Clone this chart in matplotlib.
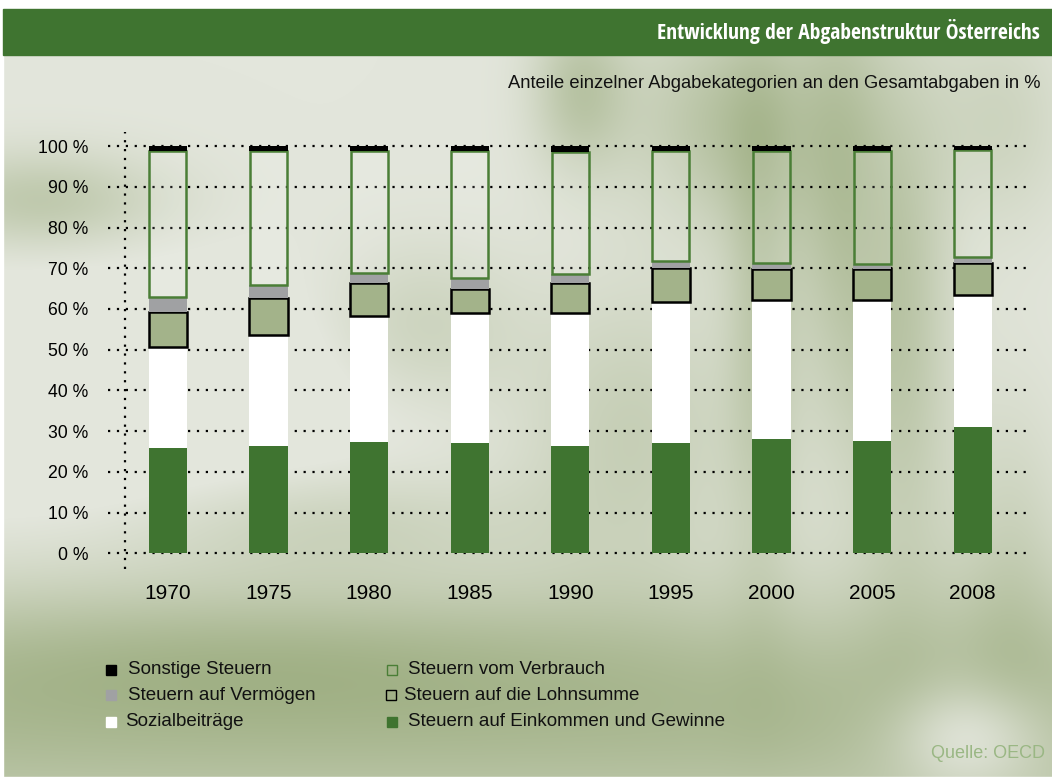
import numpy as np
import matplotlib
matplotlib.use("Agg")
import matplotlib.pyplot as plt
from matplotlib.patches import Rectangle
from matplotlib import font_manager

# data (shares in % of total tax revenue)
years = ["1970", "1975", "1980", "1985", "1990", "1995", "2000", "2005", "2008"]
einkommen = [25.9, 26.4, 27.3, 27.0, 26.3, 27.0, 28.0, 27.5, 31.0]
sozial = [24.7, 27.2, 31.0, 32.0, 32.7, 34.6, 34.2, 34.8, 32.4]
lohnsumme = [8.6, 9.0, 8.0, 6.0, 7.3, 8.5, 7.5, 7.4, 7.8]
vermoegen = [3.7, 3.4, 2.6, 2.5, 2.2, 1.6, 1.5, 1.3, 1.5]
verbrauch = [35.9, 32.8, 29.9, 31.3, 30.0, 27.1, 27.6, 27.8, 26.3]
sonstige = [1.2, 1.2, 1.2, 1.2, 1.5, 1.2, 1.2, 1.2, 1.0]

yticks = list(range(0, 101, 10))
ytick_labels = [f"{t} %" for t in yticks]

title = "Entwicklung der Abgabenstruktur Österreichs"
subtitle = "Anteile einzelner Abgabekategorien an den Gesamtabgaben in %"
source = "Quelle: OECD"

GREEN = "#3f7430"
SAGE = "#a3b38a"
GREY = "#a0a1a3"

W, H = 1052, 781
fig = plt.figure(figsize=(W / 100, H / 100), dpi=100)

# blurred greenish background
bg = fig.add_axes([0, 0, 1, 1])
yy, xx = np.mgrid[0:H, 0:W].astype(float)
light = np.array([227, 230, 220]) / 255
dark = np.array([155, 172, 126]) / 255
t = np.zeros((H, W))
blobs = [
    # cx, cy, sx, sy, strength
    (500, 720, 2000, 90, 0.75),
    (250, 650, 300, 50, 0.3),
    (40, 200, 90, 35, 0.5),
    (580, 90, 35, 60, 0.55),
    (730, 120, 70, 80, 0.6),
    (840, 200, 35, 170, 0.55),
    (905, 330, 35, 200, 0.5),
    (760, 320, 25, 180, 0.45),
    (420, 330, 70, 60, 0.35),
    (630, 430, 80, 100, 0.4),
    (330, 520, 140, 40, 0.3),
    (1010, 560, 40, 120, 0.3),
    (1000, 120, 50, 80, 0.3),
]
for cx, cy, sx, sy, s in blobs:
    t += s * np.exp(-((xx - cx) ** 2 / (2 * sx ** 2) + (yy - cy) ** 2 / (2 * sy ** 2)))
t -= 0.7 * np.exp(-((xx - 970) ** 2 / (2 * 60 ** 2) + (yy - 735) ** 2 / (2 * 40 ** 2)))
t -= 0.3 * np.exp(-((xx - 120) ** 2 / (2 * 200 ** 2) + (yy - 400) ** 2 / (2 * 80 ** 2)))
t = np.clip(t, 0, 1)
img = light[None, None, :] * (1 - t[..., None]) + dark[None, None, :] * t[..., None]
bg.imshow(img, extent=[0, W, H, 0], aspect="auto", interpolation="bilinear")
bg.add_patch(Rectangle((0, 0), W, 9, color="white"))
bg.add_patch(Rectangle((0, 0), 3, H, color="white"))
bg.add_patch(Rectangle((0, H - 4), W, 4, color="white"))
bg.add_patch(Rectangle((3, 9), W - 3, 46, color=GREEN))
bg.set_xlim(0, W)
bg.set_ylim(H, 0)
bg.axis("off")

plt.rcParams["font.family"] = ["Liberation Sans", "DejaVu Sans"]

# condensed bold face for the header, if one is installed
title_font = None
for key in ["NotoSans-ExtraCondensedBold.", "NotoSans-CondensedBold.", "LiberationSansNarrow-Bold.",
            "OpenSans-CondBold.", "DejaVuSansCondensed-Bold.", "Roboto-CondensedBold."]:
    hits = [f.fname for f in font_manager.fontManager.ttflist
            if key in f.fname and "Mono" not in f.fname and "Serif" not in f.fname]
    if hits:
        title_font = hits[0]
        break

if title_font:
    tprops = font_manager.FontProperties(fname=title_font, size=17)
    ttl = fig.text(1040 / W, 1 - 32 / H, title, ha="right", va="center", color="white", fontproperties=tprops)
    fig.canvas.draw()
    tw = ttl.get_window_extent().width
    tprops.set_size(min(20, 17 * 383 / tw))
    ttl.set_fontproperties(tprops)
else:
    fig.text(1040 / W, 1 - 32 / H, title, ha="right", va="center", color="white",
             fontsize=14.5, fontweight="bold", family=["Liberation Sans", "DejaVu Sans"])

fig.text(1040 / W, 1 - 84 / H, subtitle, ha="right", va="center", fontsize=13.2, color="#111111")
fig.text(1045 / W, 1 - 753 / H, source, ha="right", va="center", fontsize=13, color="#9ab784")

# main chart
ax = fig.add_axes([108 / W, 1 - 569.3 / H, 923.7 / W, (569.3 - 131.8) / H])
ax.patch.set_alpha(0)
x = np.arange(len(years))
bw = 0.38
dots = (0, (1, 3.0))
for t_ in yticks:
    ax.axhline(t_, color="black", lw=1.6, linestyle=dots, zorder=1)
ax.axvline(-0.427, color="black", lw=1.6, linestyle=dots, zorder=1)

bottom = np.zeros(len(years))
ax.bar(x, einkommen, bw, bottom=bottom, color=GREEN, zorder=3)
bottom += einkommen
ax.bar(x, sozial, bw, bottom=bottom, color="white", zorder=3)
bottom += sozial
ax.bar(x, lohnsumme, bw, bottom=bottom, facecolor=SAGE, edgecolor="black", lw=1.8, zorder=3)
bottom += lohnsumme
ax.bar(x, vermoegen, bw, bottom=bottom, color=GREY, zorder=3)
bottom += vermoegen
ax.bar(x, verbrauch, bw * 0.97, bottom=bottom, facecolor=(1, 1, 1, 0.12), edgecolor="#4a7e36", lw=1.8, zorder=3)
bottom += verbrauch
ax.bar(x, sonstige, bw, bottom=bottom, color="black", zorder=3)

ax.set_xlim(-0.596, 8.586)
ax.set_ylim(-3.9, 103.5)
ax.set_yticks(yticks)
ax.set_yticklabels(ytick_labels, fontsize=12.7)
ax.set_xticks(x)
ax.set_xticklabels(years, fontsize=15)
ax.tick_params(axis="y", length=0, pad=14.4)
ax.tick_params(axis="x", length=0, pad=10.5)
for s in ax.spines.values():
    s.set_visible(False)

# legend
legend_items = [
    (106, 670, "black", "black", 128, "Sonstige Steuern"),
    (106, 695, GREY, GREY, 128, "Steuern auf Vermögen"),
    (106, 722, "white", "white", 125, "Sozialbeiträge"),
    (387, 670, "none", "#4a7e36", 408, "Steuern vom Verbrauch"),
    (386, 695, "none", "black", 404, "Steuern auf die Lohnsumme"),
    (387, 722, GREEN, GREEN, 408, "Steuern auf Einkommen und Gewinne"),
]
for mx, my, fc, ec, tx, label in legend_items:
    bg.add_patch(Rectangle((mx, my - 5), 10, 10, facecolor=fc, edgecolor=ec, lw=1.0))
    bg.text(tx, my, label, ha="left", va="center", fontsize=13.5, color="#111111")

fig.savefig("out.png", dpi=100)
